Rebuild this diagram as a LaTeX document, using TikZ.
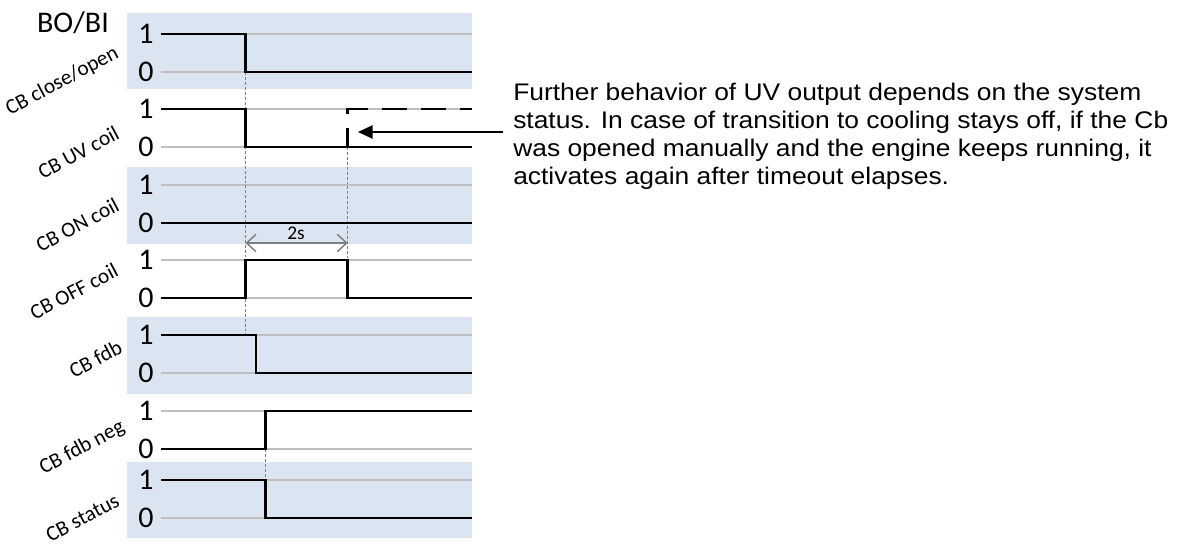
\documentclass[tikz,border=0pt]{standalone}
\usepackage{fontspec}
\setmainfont{Liberation Sans}
\newfontfamily\calib{Carlito}
\newfontfamily\notefont[FakeStretch=1.1]{Liberation Sans}
\usetikzlibrary{arrows.meta}
\definecolor{bandc}{HTML}{DBE5F1}
\definecolor{gridc}{HTML}{BFBFBF}
\definecolor{dotc}{HTML}{7F7F7F}
\begin{document}
\begin{tikzpicture}[x=0.75pt,y=0.75pt,
  bandbox/.style={fill=bandc,draw=none},
  gridline/.style={draw=gridc,line width=1.1pt},
  sig/.style={draw=black,line width=2.1pt,line join=miter},
  sigdash/.style={sig,dash pattern=on 18.75pt off 10.5pt,dash phase=4.5pt},
  vguide/.style={draw=dotc,line width=1.1pt,dash pattern=on 2.2pt off 1.5pt},
  digit/.style={font=\calib\fontsize{22.5}{27}\selectfont,inner sep=0pt},
  siglabel/.style={font=\calib\fontsize{16}{19}\selectfont,inner sep=0pt,rotate=28,anchor=base east},
  twoslabel/.style={font=\calib\fontsize{14.5}{17}\selectfont,inner sep=0pt,anchor=base},
  dimarrow/.style={draw=dotc,line width=1.1pt,{Straight Barb[length=7pt,width=13pt]}-{Straight Barb[length=7pt,width=13pt]}},
  notearrow/.style={draw=black,line width=1.1pt,-{Triangle[length=11pt,width=10pt]}},
  note/.style={font=\notefont\fontsize{18}{21}\selectfont,inner sep=0pt,align=left,anchor=base west},
  ]
\useasboundingbox (0,0) rectangle (1182,-545);
% bands
\fill[bandbox] (127,-13) rectangle (472,-89);
\fill[bandbox] (127,-167) rectangle (472,-244);
\fill[bandbox] (127,-317) rectangle (472,-394);
\fill[bandbox] (127,-462) rectangle (472,-538);
% grid lines and level digits
\foreach \a/\b [count=\i] in {34/72,109/147,185/223,260/298,335/373,411/449,480/518}{
  \draw[gridline] (161,-\a) -- (472,-\a);
  \draw[gridline] (161,-\b) -- (472,-\b);
  \node[digit] (hi\i) at (146,-\a) {1};
  \node[digit] (lo\i) at (146,-\b) {0};
}
% dotted guides
\draw[vguide] (245.5,-72) -- (245.5,-335);
\draw[vguide] (347.7,-147) -- (347.7,-298);
\draw[vguide] (265.7,-449) -- (265.7,-480);
% signals
\draw[sig] (161,-34) -- (245.5,-34) -- (245.5,-72) -- (472,-72);
\draw[sig] (161,-109) -- (245.5,-109) -- (245.5,-147) -- (472,-147);
\draw[sigdash] (347.7,-147) -- (347.7,-109) -- (472,-109);
\draw[sig] (161,-223) -- (472,-223);
\draw[sig] (161,-298) -- (245.5,-298) -- (245.5,-260) -- (347.7,-260) -- (347.7,-298) -- (472,-298);
\draw[sig] (161,-335) -- (256,-335) -- (256,-373) -- (472,-373);
\draw[sig] (161,-449) -- (265.7,-449) -- (265.7,-411) -- (472,-411);
\draw[sig] (161,-480) -- (265.7,-480) -- (265.7,-518) -- (472,-518);
% title and labels
\node[font=\calib\fontsize{22.5}{27}\selectfont,inner sep=0pt,anchor=base] (title) at (73,-33) {BO/BI};
\node[siglabel] (l1) at (120,-57) {CB close/open};
\node[siglabel] (l2) at (121,-138) {CB UV coil};
\node[siglabel] (l3) at (121,-210) {CB ON coil};
\node[siglabel] (l4) at (120,-275) {CB OFF coil};
\node[siglabel] (l5) at (124,-352) {CB fdb};
\node[siglabel] (l6) at (126,-431) {CB fdb neg};
\node[siglabel] (l7) at (121,-505) {CB status};
% 2s dimension
\coordinate (d0) at (245.5,-243);
\coordinate (d1) at (347.7,-243);
\draw[dimarrow] (d0) -- (d1);
\node[twoslabel] (twos) at (296,-240) {2s};
% note
\node[note] (txt) at (513,-185) {Further behavior of UV output depends on the system\\
status. In case of transition to cooling stays off, if the Cb\\
was opened manually and the engine keeps running, it\\
activates again after timeout elapses.};
\coordinate (tip) at (358,-132);
\coordinate (tailref) at ([xshift=-7.5pt]txt.north west);
\draw[notearrow] (tailref |- tip) -- (tip);
\end{tikzpicture}
\end{document}
